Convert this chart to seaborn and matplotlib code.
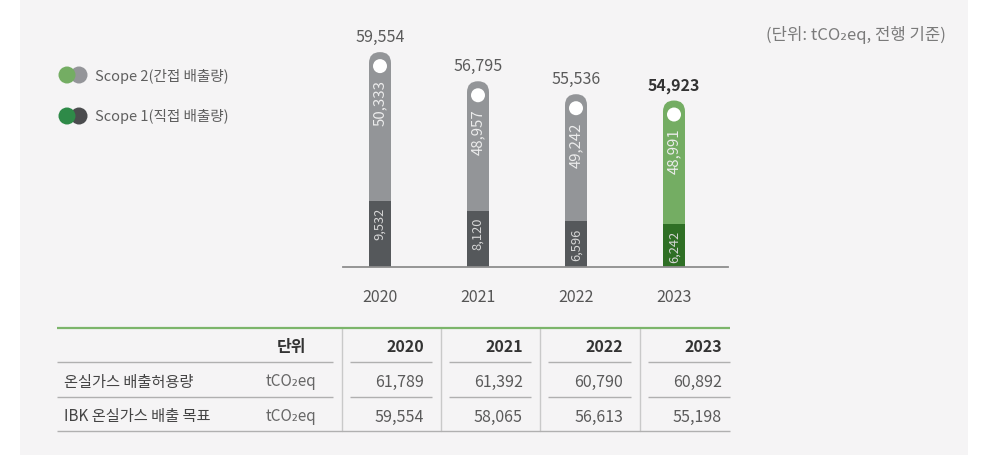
import numpy as np
import pandas as pd
import matplotlib
matplotlib.use("Agg")
import matplotlib.pyplot as plt
import seaborn as sns
from matplotlib.patches import FancyBboxPatch, Circle, Rectangle
from matplotlib.lines import Line2D
from matplotlib.transforms import IdentityTransform

# ---- data -------------------------------------------------------------
years = ["2020", "2021", "2022", "2023"]
scope1 = [9532, 8120, 6596, 6242]          # Scope 1 (직접 배출량)
scope2 = [50333, 48957, 49242, 48991]      # Scope 2 (간접 배출량)
total_labels = [59554, 56795, 55536, 54923]

table_years = ["2020", "2021", "2022", "2023"]
allowance = [61789, 61392, 60790, 60892]   # 온실가스 배출허용량
target = [59554, 58065, 56613, 55198]      # IBK 온실가스 배출 목표
row_labels = ["온실가스 배출허용량", "IBK 온실가스 배출 목표"]
unit_label = "tCO₂eq"

# ---- style ------------------------------------------------------------
sns.set_theme(style="white")
plt.rcParams["font.family"] = ["Noto Sans CJK KR", "DejaVu Sans"]

W, H = 981, 456
PANEL = "#f5f4f5"
GRAY_TOP, GRAY_BOT = "#939598", "#55585b"
GREEN_TOP, GREEN_BOT = "#74ad63", "#2f6f25"
top_colors = [GRAY_TOP, GRAY_TOP, GRAY_TOP, GREEN_TOP]
bot_colors = [GRAY_BOT, GRAY_BOT, GRAY_BOT, GREEN_BOT]

fig = plt.figure(figsize=(W / 100, H / 100), dpi=100)
fig.patch.set_facecolor("white")
fig.add_artist(Rectangle((20 / W, 0), 948 / W, 1, transform=fig.transFigure,
                         facecolor=PANEL, edgecolor="none", zorder=-10))


def fx(x):
    return x / W


def fy(y):
    return 1 - y / H


# value axis with a compressed middle band (broken-axis style)
_KV = [-1e6, 0, 10000, 54000, 62000, 1e6]
_KP = [-6900, 0, 69, 153.6, 237.2, 237.2 + 938000 * 0.01045]


def _fwd(v):
    return np.interp(np.asarray(v, float), _KV, _KP)


def _inv(p):
    return np.interp(np.asarray(p, float), _KP, _KV)


ax = fig.add_axes([fx(343), (H - 268) / H, 385 / W, 237.2 / H])
ax.set_facecolor("none")
ax.set_yscale("function", functions=(_fwd, _inv))

df = pd.DataFrame({"year": years, "scope1": scope1, "scope2": scope2})
df["stack"] = df["scope1"] + df["scope2"]

BAR_W = 22 / 98
sns.barplot(data=df, x="year", y="stack", hue="year", palette=top_colors,
            width=BAR_W, dodge=False, saturation=1, legend=False, ax=ax)
top_patches = list(ax.patches)
sns.barplot(data=df, x="year", y="scope1", hue="year", palette=bot_colors,
            width=BAR_W, dodge=False, saturation=1, legend=False, ax=ax)
bot_patches = [p for p in ax.patches if p not in top_patches]
for p in top_patches:
    p.set_zorder(2)
    p.set_edgecolor("none")
for p in bot_patches:
    p.set_zorder(4)
    p.set_edgecolor("none")

ax.set_xlim(-37 / 98, 3 + 54 / 98)
ax.set_ylim(0, 62000)
ax.set_xlabel("")
ax.set_ylabel("")
ax.set_yticks([])
for s in ["top", "left", "right"]:
    ax.spines[s].set_visible(False)
ax.spines["bottom"].set_color("#8d8d8d")
ax.spines["bottom"].set_linewidth(1.3)
ax.spines["bottom"].set_zorder(6)
ax.tick_params(axis="x", length=0, pad=15, labelsize=11.5, labelcolor="#555555")

# value labels
for i, row in df.iterrows():
    bold = i == len(df) - 1
    ax.annotate(f"{total_labels[i]:,}", xy=(i, row["stack"]), xytext=(0, 16),
                textcoords="offset pixels", ha="center", va="center",
                fontsize=11.5, color="#333333" if bold else "#5a5a5a",
                fontweight="bold" if bold else "normal")
    ax.annotate(f"{row['scope2']:,}", xy=(i, row["stack"]), xytext=(0, -27),
                textcoords="offset pixels", ha="center", va="top", rotation=90,
                fontsize=10.8, color="#ececec", zorder=7)
    ax.annotate(f"{row['scope1']:,}", xy=(i, row["scope1"]), xytext=(0, -6),
                textcoords="offset pixels", ha="center", va="top", rotation=90,
                fontsize=9.3, color="#d6d6d6", zorder=7)

# rounded caps and white dots on the bars
fig.canvas.draw()
for p in top_patches:
    bb = p.get_window_extent()
    r = bb.width / 2
    cap = FancyBboxPatch((bb.x0, bb.y0), bb.width, bb.height,
                         boxstyle=f"round,pad=0,rounding_size={r}",
                         transform=IdentityTransform(), facecolor=p.get_facecolor(),
                         edgecolor="none", zorder=3, clip_on=False)
    p.set_visible(False)
    ax.add_artist(cap)
    dot = Circle(((bb.x0 + bb.x1) / 2, bb.y1 - 14), 7, transform=IdentityTransform(),
                 facecolor="white", edgecolor="none", zorder=5, clip_on=False)
    ax.add_artist(dot)

# legend
legend_items = [("Scope 2(간접 배출량)", "#74ad63", "#949599", 76),
                ("Scope 1(직접 배출량)", "#2e8a48", "#4b4c4e", 117)]
for text, front, back, y in legend_items:
    fig.add_artist(Circle((79, H - y), 8.5, transform=IdentityTransform(),
                          facecolor=back, edgecolor="none"))
    fig.add_artist(Circle((67, H - y), 8.5, transform=IdentityTransform(),
                          facecolor=front, edgecolor="none"))
    fig.text(fx(95), fy(y), text, ha="left", va="center", fontsize=10.5, color="#5f5f5f")

fig.text(fx(946), fy(35), "(단위: tCO₂eq, 전행 기준)", ha="right", va="center",
         fontsize=12, color="#7a7a7a")

# ---- table ------------------------------------------------------------
def hline(x0, x1, y, color, lw):
    fig.add_artist(Line2D([fx(x0), fx(x1)], [fy(y), fy(y)], transform=fig.transFigure,
                          color=color, lw=lw, solid_capstyle="butt"))


def vline(x, y0, y1, color, lw):
    fig.add_artist(Line2D([fx(x), fx(x)], [fy(y0), fy(y1)], transform=fig.transFigure,
                          color=color, lw=lw))


col_edges = [342, 441, 540, 640, 730]
for x in col_edges[:-1]:
    vline(x, 329, 432, "#c9c9c9", 1.0)
hline(57, 730, 329, "#7cb56b", 1.6)
hline(57, 730, 432, "#b0b0b0", 1.0)
for y in (363, 398):
    hline(57, 333, y, "#b0b0b0", 1.0)
    for a, b in zip(col_edges[:-1], col_edges[1:]):
        hline(a + 8, b - 9 if b != 730 else b, y, "#b0b0b0", 1.0)

ROW_Y = [347, 382, 417]
fig.text(fx(291), fy(ROW_Y[0]), "단위", ha="center", va="center", fontsize=11.5,
         fontweight="bold", color="#333333")
for j, yr in enumerate(table_years):
    right = col_edges[j + 1] - (17 if j < 3 else 8)
    fig.text(fx(right), fy(ROW_Y[0]), yr, ha="right", va="center", fontsize=11.5,
             fontweight="bold", color="#333333")
for r, (label, vals) in enumerate(zip(row_labels, [allowance, target])):
    y = ROW_Y[r + 1]
    fig.text(fx(64), fy(y), label, ha="left", va="center", fontsize=11,
             color="#444444")
    fig.text(fx(291), fy(y), unit_label, ha="center", va="center", fontsize=11,
             color="#666666")
    for j, v in enumerate(vals):
        right = col_edges[j + 1] - (17 if j < 3 else 8)
        fig.text(fx(right), fy(y), f"{v:,}", ha="right", va="center", fontsize=11.5,
                 color="#5a5a5a")

fig.savefig("out.png", dpi=100, facecolor=fig.get_facecolor())
